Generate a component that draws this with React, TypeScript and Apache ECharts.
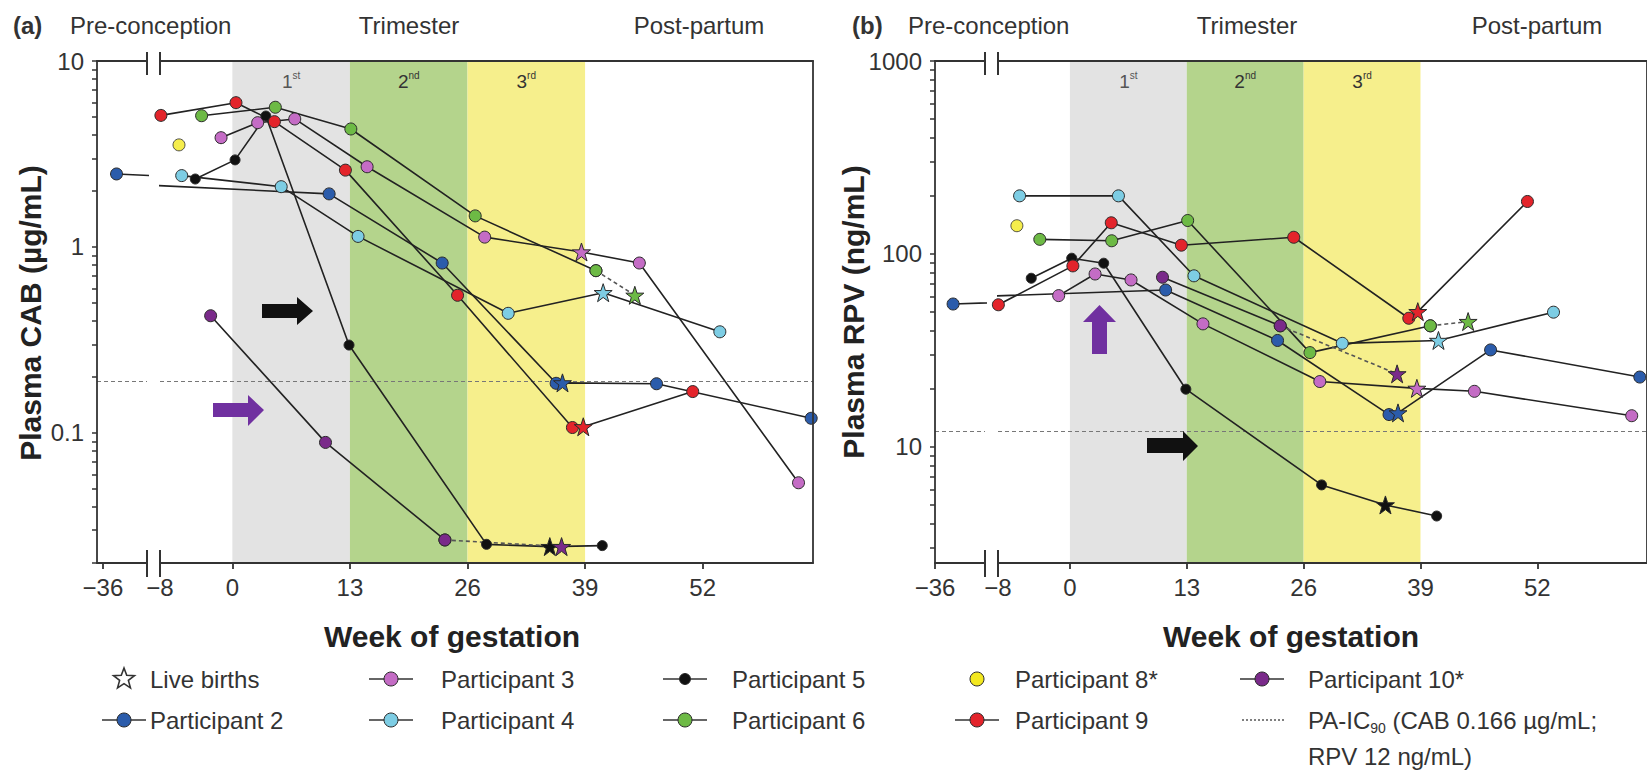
import React, { useEffect, useRef } from 'react';
import * as echarts from 'echarts';

// ---------- Axis ticks ----------
const preTicks = [-36];
const weekLabels = [-8, 0, 13, 26, 39, 52];
const weekTicks = [0, 13, 26, 39, 52];
const trimesters: [number, number, string, string][] = [
  [0, 13, '1', 'st'],
  [13, 26, '2', 'nd'],
  [26, 39, '3', 'rd'],
];
const cabLabels = [0.1, 1, 10];
const cabTicks = [0.02, 0.03, 0.04, 0.05, 0.06, 0.07, 0.08, 0.09, 0.1, 0.2, 0.3, 0.4, 0.5, 0.6, 0.7, 0.8, 0.9, 1, 2, 3, 4, 5, 6, 7, 8, 9, 10];
const rpvLabels = [10, 100, 1000];
const rpvTicks = [3, 4, 5, 6, 7, 8, 9, 10, 20, 30, 40, 50, 60, 70, 80, 90, 100, 200, 300, 400, 500, 600, 700, 800, 900, 1000];
const cabThreshold = 0.19;
const rpvThreshold = 12;

// ---------- Panel (a): plasma CAB (µg/mL), [week, value] ----------
const cabP2 = [[-34.5, 2.47], [10.7, 1.93], [23.2, 0.82], [35.8, 0.185], [36.5, 0.186], [46.9, 0.184], [64, 0.12]];
const cabP3 = [[-1.25, 3.87], [2.8, 4.66], [6.9, 4.88], [14.9, 2.7], [27.9, 1.13], [38.6, 0.94], [45, 0.82], [62.6, 0.054]];
const cabP4 = [[-5.6, 2.42], [5.4, 2.11], [13.9, 1.14], [30.5, 0.44], [41, 0.568], [53.9, 0.35]];
const cabP5 = [[-4.1, 2.32], [0.3, 2.94], [3.7, 5.06], [12.9, 0.297], [28.1, 0.0252], [35.1, 0.0245], [40.9, 0.0248]];
const cabP6 = [[-3.4, 5.08], [4.75, 5.64], [13.1, 4.31], [26.85, 1.47], [40.2, 0.746], [44.5, 0.55]];
const cabP8 = [[-5.9, 3.54]];
const cabP9 = [[-7.9, 5.1], [0.4, 5.97], [4.65, 4.72], [12.5, 2.59], [24.9, 0.55], [37.6, 0.107], [38.8, 0.108], [50.9, 0.167]];
const cabP10 = [[-2.4, 0.427], [10.3, 0.089], [23.5, 0.0266], [36.4, 0.0245]];
const cabBirth: Record<string, number> = { P2: 4, P3: 5, P4: 4, P5: 5, P6: 5, P9: 6, P10: 3 };
const cabDashFrom: Record<string, number> = { P6: 4, P10: 2 };

// ---------- Panel (b): plasma RPV (ng/mL), [week, value] ----------
const rpvP2 = [[-34, 55], [10.65, 65], [23.1, 35.6], [35.5, 14.7], [36.5, 15], [46.8, 31.8], [63.4, 23]];
const rpvP3 = [[-1.25, 60.8], [2.8, 78.7], [6.8, 73.3], [14.8, 43.4], [27.8, 21.8], [38.6, 20.1], [45, 19.4], [62.5, 14.5]];
const rpvP4 = [[-5.6, 200], [5.4, 200], [13.8, 77], [30.3, 34.4], [41, 35.6], [53.8, 49.9]];
const rpvP5 = [[-4.3, 74.8], [0.2, 95], [3.76, 89.5], [12.9, 19.9], [28, 6.35], [35.1, 5.0], [40.8, 4.38]];
const rpvP6 = [[-3.35, 119], [4.65, 117], [13.1, 149], [26.7, 30.8], [40.1, 42.4], [44.3, 44.6]];
const rpvP8 = [[-5.9, 140]];
const rpvP9 = [[-7.96, 54.5], [0.33, 86.7], [4.6, 145], [12.4, 111], [24.9, 122], [37.7, 46.4], [38.7, 50.2], [50.9, 187]];
const rpvP10 = [[10.3, 75.7], [23.4, 42.4], [36.4, 23.9]];
const rpvBirth: Record<string, number> = { P2: 4, P3: 5, P4: 4, P5: 5, P6: 5, P9: 6, P10: 2 };
const rpvDashFrom: Record<string, number> = { P6: 4, P10: 1 };

const participants = [
  { key: 'P2', name: 'Participant 2', color: '#2b5cab' },
  { key: 'P3', name: 'Participant 3', color: '#c46cc5' },
  { key: 'P4', name: 'Participant 4', color: '#7dcde4' },
  { key: 'P5', name: 'Participant 5', color: '#111111' },
  { key: 'P6', name: 'Participant 6', color: '#6dba45' },
  { key: 'P8', name: 'Participant 8*', color: '#f3e81f' },
  { key: 'P9', name: 'Participant 9', color: '#e3242b' },
  { key: 'P10', name: 'Participant 10*', color: '#7a2a8a' },
];

const cabData: Record<string, number[][]> = { P2: cabP2, P3: cabP3, P4: cabP4, P5: cabP5, P6: cabP6, P8: cabP8, P9: cabP9, P10: cabP10 };
const rpvData: Record<string, number[][]> = { P2: rpvP2, P3: rpvP3, P4: rpvP4, P5: rpvP5, P6: rpvP6, P8: rpvP8, P9: rpvP9, P10: rpvP10 };

// ---------- Styling ----------
const FONT = '"Liberation Sans", Arial, Helvetica, sans-serif';
const INK = '#333333';
const BAND_COLORS = ['#e3e3e3', '#b4d48c', '#f6ef8c'];
const BAND_TEXT = ['#555555', '#333333', '#333333'];
const STAR = 'path://M50,0 L61.8,34.5 98.1,34.5 68.8,55.9 79.9,90.5 50,69.1 20.1,90.5 31.2,55.9 1.9,34.5 38.2,34.5 Z';
const axisLineStyle = { color: INK, width: 1.8 };

const fmtWeek = (v: number) => (v < 0 ? '\u2212' + Math.abs(v) : String(v));

function makeItems(points: number[][], birth: number | undefined, key: string) {
  return points.map((pt, i) => {
    const isBirth = i === birth;
    return {
      value: pt,
      symbol: isBirth ? STAR : 'circle',
      symbolSize: isBirth ? 18 : key === 'P5' ? 10 : 12,
    };
  });
}

function lineSeries(name: string, items: any[], color: string, xIdx: number, yIdx: number, dashed: boolean) {
  return {
    type: 'line',
    name,
    xAxisIndex: xIdx,
    yAxisIndex: yIdx,
    data: items,
    clip: true,
    silent: true,
    z: 5,
    showAllSymbol: true,
    lineStyle: { color: dashed ? '#555' : '#222', width: 1.6, type: dashed ? [4, 3] : 'solid' },
    itemStyle: { color, borderColor: '#2a2a2a', borderWidth: 1 },
    emphasis: { disabled: true },
  };
}

function thresholdLine(value: number) {
  return {
    silent: true,
    symbol: ['none', 'none'],
    label: { show: false },
    lineStyle: { color: '#777', type: [4, 3], width: 1.2 },
    data: [{ yAxis: value }],
  };
}

function panelSeries(
  data: Record<string, number[][]>,
  births: Record<string, number>,
  dashFrom: Record<string, number>,
  panel: number,
  threshold: number
) {
  const xL = panel * 4;
  const xR = panel * 4 + 2;
  const yL = panel * 2;
  const yR = panel * 2 + 1;
  const out: any[] = [];
  out.push({
    type: 'line',
    xAxisIndex: xR,
    yAxisIndex: yR,
    data: [],
    z: 1,
    silent: true,
    markArea: {
      silent: true,
      data: trimesters.map((t, i) => [
        {
          xAxis: t[0],
          itemStyle: { color: BAND_COLORS[i] },
          label: {
            show: true,
            position: 'insideTop',
            distance: 9,
            formatter: '{n|' + t[2] + '}{s|' + t[3] + '}',
            rich: {
              n: { fontSize: 19, fontFamily: FONT, color: BAND_TEXT[i], lineHeight: 22 },
              s: { fontSize: 10, fontFamily: FONT, color: BAND_TEXT[i], verticalAlign: 'top', lineHeight: 14 },
            },
          },
        },
        { xAxis: t[1] },
      ]),
    },
    markLine: thresholdLine(threshold),
  });
  participants.forEach((p) => {
    const pts = data[p.key];
    const items = makeItems(pts, births[p.key], p.key);
    if (pts.length === 1) {
      out.push({
        type: 'scatter',
        xAxisIndex: xR,
        yAxisIndex: yR,
        data: items,
        z: 5,
        silent: true,
        itemStyle: { color: p.color, borderColor: '#2a2a2a', borderWidth: 1 },
      });
      return;
    }
    const d = dashFrom[p.key];
    if (d !== undefined) {
      out.push(lineSeries(p.name, items.slice(0, d + 1), p.color, xR, yR, false));
      out.push(lineSeries(p.name, items.slice(d), p.color, xR, yR, true));
    } else {
      out.push(lineSeries(p.name, items, p.color, xR, yR, false));
    }
    if (p.key === 'P2') {
      const left: any = lineSeries(p.name, items, p.color, xL, yL, false);
      left.markLine = thresholdLine(threshold);
      out.push(left);
    }
  });
  return out;
}

function xAxesFor(gL: number, gR: number, leftMin: number, leftMax: number) {
  const base = {
    type: 'value',
    z: 10,
    splitLine: { show: false },
    axisLine: { show: true, onZero: false, lineStyle: axisLineStyle },
  };
  const label = { color: INK, fontSize: 24, fontFamily: FONT, margin: 12, formatter: fmtWeek };
  return [
    { ...base, gridIndex: gL, position: 'bottom', min: leftMin, max: leftMax,
      axisTick: { show: true, customValues: preTicks, length: 6, lineStyle: axisLineStyle },
      axisLabel: { ...label, customValues: preTicks } },
    { ...base, gridIndex: gL, position: 'top', min: leftMin, max: leftMax, axisTick: { show: false }, axisLabel: { show: false } },
    { ...base, gridIndex: gR, position: 'bottom', min: -8, max: 64.2,
      axisTick: { show: true, customValues: weekTicks, length: 6, lineStyle: axisLineStyle },
      axisLabel: { ...label, customValues: weekLabels } },
    { ...base, gridIndex: gR, position: 'top', min: -8, max: 64.2, axisTick: { show: false }, axisLabel: { show: false } },
  ];
}

function yAxesFor(gL: number, gR: number, min: number, max: number, ticks: number[], labels: number[]) {
  return [
    {
      type: 'log', logBase: 10, gridIndex: gL, position: 'left', min, max, z: 10,
      splitLine: { show: false },
      axisLine: { show: true, onZero: false, lineStyle: axisLineStyle },
      axisTick: { show: true, customValues: ticks, length: 5, lineStyle: { color: INK, width: 1.5 } },
      axisLabel: { customValues: labels, color: INK, fontSize: 24, fontFamily: FONT, margin: 13, formatter: (v: number) => String(v) },
    },
    {
      type: 'log', logBase: 10, gridIndex: gR, position: 'right', min, max, z: 10,
      splitLine: { show: false },
      axisLine: { show: true, onZero: false, lineStyle: axisLineStyle },
      axisTick: { show: false },
      axisLabel: { show: false },
    },
  ];
}

function text(x: number, y: number, t: string, size: number, opts: any = {}) {
  return {
    type: 'text',
    x,
    y,
    rotation: opts.rotation || 0,
    silent: true,
    z: 20,
    style: {
      text: t,
      fontSize: size,
      fontFamily: FONT,
      fontWeight: opts.bold ? 'bold' : 'normal',
      fill: opts.fill || INK,
      align: opts.align || 'left',
      verticalAlign: 'middle',
      rich: opts.rich,
    },
  };
}

function bar(x: number, y1: number, y2: number) {
  return { type: 'line', silent: true, z: 20, shape: { x1: x, y1, x2: x, y2 }, style: { stroke: INK, lineWidth: 2 } };
}

function arrow(points: number[][], color: string) {
  return { type: 'polygon', silent: true, z: 20, shape: { points }, style: { fill: color } };
}

function starPoints(cx: number, cy: number, R: number, r: number) {
  const pts: number[][] = [];
  for (let i = 0; i < 10; i++) {
    const rad = i % 2 === 0 ? R : r;
    const a = -Math.PI / 2 + (i * Math.PI) / 5;
    pts.push([cx + rad * Math.cos(a), cy + rad * Math.sin(a)]);
  }
  return pts;
}

function legendEntry(cx: number, cy: number, color: string, withLine: boolean, small: boolean) {
  const els: any[] = [];
  if (withLine) {
    els.push({ type: 'line', silent: true, z: 20, shape: { x1: cx - 22, y1: cy, x2: cx + 22, y2: cy }, style: { stroke: '#333', lineWidth: 1.6 } });
  }
  els.push({ type: 'circle', silent: true, z: 21, shape: { cx, cy, r: small ? 5.5 : 7 }, style: { fill: color, stroke: '#2a2a2a', lineWidth: 1 } });
  return els;
}

function buildGraphic() {
  const g: any[] = [];
  // Headers
  g.push(text(13, 25, '(a)', 24, { bold: true }));
  g.push(text(70, 25, 'Pre-conception', 24));
  g.push(text(409, 25, 'Trimester', 24, { align: 'center' }));
  g.push(text(699, 25, 'Post-partum', 24, { align: 'center' }));
  g.push(text(852, 25, '(b)', 24, { bold: true }));
  g.push(text(908, 25, 'Pre-conception', 24));
  g.push(text(1247, 25, 'Trimester', 24, { align: 'center' }));
  g.push(text(1537, 25, 'Post-partum', 24, { align: 'center' }));
  // Axis titles
  g.push(text(30, 313, 'Plasma CAB (µg/mL)', 30, { bold: true, align: 'center', rotation: Math.PI / 2, fill: '#222' }));
  g.push(text(853, 312, 'Plasma RPV (ng/mL)', 30, { bold: true, align: 'center', rotation: Math.PI / 2, fill: '#222' }));
  g.push(text(452, 636, 'Week of gestation', 30, { bold: true, align: 'center', fill: '#222' }));
  g.push(text(1291, 636, 'Week of gestation', 30, { bold: true, align: 'center', fill: '#222' }));
  // Axis break marks
  [147, 160, 985, 998].forEach((x) => {
    g.push(bar(x, 52, 75));
    g.push(bar(x, 550, 577));
  });
  // Arrows
  g.push(arrow([[262, 304], [297, 304], [297, 297], [313, 311], [297, 325], [297, 318], [262, 318]], '#111'));
  g.push(arrow([[213, 403], [248, 403], [248, 395], [264, 410], [248, 426], [248, 417], [213, 417]], '#7030a0'));
  g.push(arrow([[1092, 354], [1092, 322], [1083, 322], [1099.5, 305], [1116, 322], [1107, 322], [1107, 354]], '#7030a0'));
  g.push(arrow([[1147, 438], [1183, 438], [1183, 431], [1198, 446], [1183, 461], [1183, 453], [1147, 453]], '#111'));
  // Legend
  const row1 = 679;
  const row2 = 720;
  const row3 = 756;
  g.push({ type: 'polygon', silent: true, z: 21, shape: { points: starPoints(124, row1, 11, 4.6) }, style: { fill: '#fff', stroke: '#333', lineWidth: 1.6 } });
  g.push(text(150, row1, 'Live births', 24));
  const col = (key: string) => participants.find((p) => p.key === key)!;
  const entries: [string, number, number, number, boolean][] = [
    ['P2', 124, row2, 150, true],
    ['P3', 391, row1, 441, true],
    ['P4', 391, row2, 441, true],
    ['P5', 685, row1, 732, true],
    ['P6', 685, row2, 732, true],
    ['P8', 977, row1, 1015, false],
    ['P9', 977, row2, 1015, true],
    ['P10', 1262, row1, 1308, true],
  ];
  entries.forEach(([key, cx, cy, tx, withLine]) => {
    const p = col(key);
    g.push(...legendEntry(cx, cy, p.color, withLine, key === 'P5'));
    g.push(text(tx, cy, p.name, 24));
  });
  g.push({ type: 'line', silent: true, z: 20, shape: { x1: 1242, y1: row2, x2: 1286, y2: row2 }, style: { stroke: '#555', lineWidth: 1.6, lineDash: [2, 2] } });
  g.push(text(1308, row2, '{a|PA-IC}{s|90}{a| (CAB 0.166 µg/mL;}', 24, {
    rich: {
      a: { fontSize: 24, fontFamily: FONT, fill: INK },
      s: { fontSize: 14, fontFamily: FONT, fill: INK, padding: [16, 0, 0, 0] },
    },
  }));
  g.push(text(1308, row3, 'RPV 12 ng/mL)', 24));
  return g;
}

export default function App() {
  const ref = useRef<HTMLDivElement>(null);
  useEffect(() => {
    if (!ref.current) return;
    const chart = echarts.init(ref.current, undefined, { renderer: 'svg' });
    const option: any = {
      animation: false,
      backgroundColor: '#ffffff',
      grid: [
        { left: 97, top: 61, width: 50, height: 502 },
        { left: 160, top: 61, width: 653, height: 502 },
        { left: 935, top: 61, width: 50, height: 502 },
        { left: 998, top: 61, width: 653, height: 502 },
      ],
      xAxis: [...xAxesFor(0, 1, -36.66, -31.13), ...xAxesFor(2, 3, -36, -30.47)],
      yAxis: [
        ...yAxesFor(0, 1, 0.02, 10, cabTicks, cabLabels),
        ...yAxesFor(2, 3, 2.5, 1000, rpvTicks, rpvLabels),
      ],
      series: [
        ...panelSeries(cabData, cabBirth, cabDashFrom, 0, cabThreshold),
        ...panelSeries(rpvData, rpvBirth, rpvDashFrom, 1, rpvThreshold),
      ],
      graphic: { elements: buildGraphic() },
    };
    chart.setOption(option);
    return () => chart.dispose();
  }, []);
  return (
    <div
      ref={ref}
      style={{ position: 'absolute', left: 0, top: 0, width: 1647, height: 771, background: '#fff' }}
    />
  );
}
